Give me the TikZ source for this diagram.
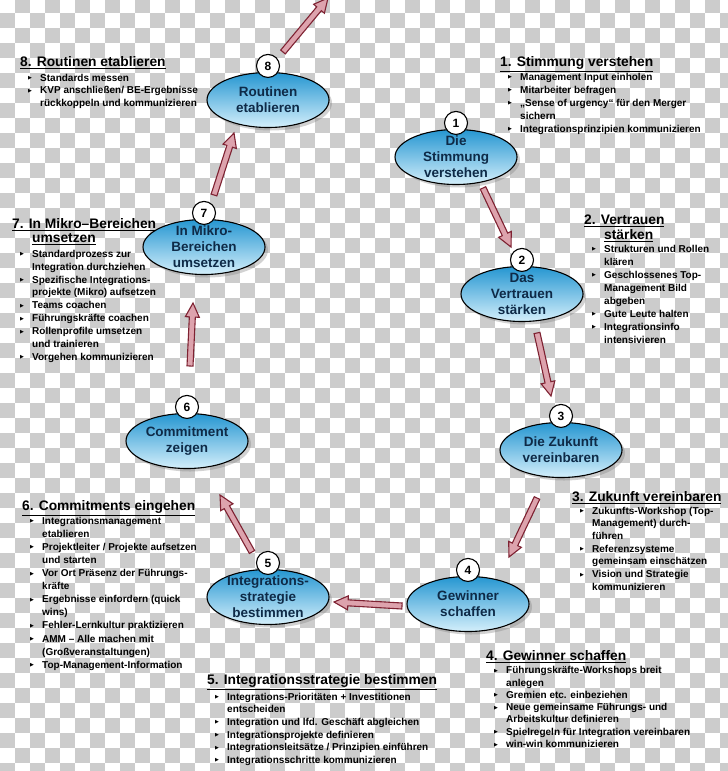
\documentclass[tikz,border=0pt]{standalone}
\usepackage{fontspec}
\setmainfont{Liberation Sans}
\newfontfamily\symfont{DejaVu Sans}
\usetikzlibrary{shapes.geometric,shadows,calc,positioning}

\definecolor{phasetop}{HTML}{2596D1}
\definecolor{phasebot}{HTML}{D4EFFB}
\definecolor{phasetext}{HTML}{0E2A47}
\definecolor{arrowfill}{HTML}{DDA3AD}
\definecolor{arrowline}{HTML}{7E2232}
\definecolor{checker}{HTML}{CCCCCC}

% bullet and continuation lines of the lists
\newcommand{\bul}{\strut\hspace*{8pt}\makebox[12pt][l]{\raisebox{1.5pt}{\symfont\fontsize{5}{5}\selectfont ▶}}}
\newcommand{\cont}{\strut\hspace*{20pt}}

% block arrow from tail #1 to tip #2
\newcommand{\flowarrow}[2]{%
  \coordinate (hb) at ($(#2)!14pt!(#1)$);
  \filldraw[flow] ($(#1)!3pt!90:(#2)$) -- ($(hb)!3pt!-90:(#1)$) -- ($(hb)!7pt!-90:(#1)$) -- (#2)
    -- ($(hb)!7pt!90:(#1)$) -- ($(hb)!3pt!90:(#1)$) -- ($(#1)!3pt!-90:(#2)$) -- cycle;}

\tikzset{
  phase/.style={ellipse, draw=black, line width=1.1pt, top color=phasetop, bottom color=phasebot,
    minimum width=122pt, minimum height=55pt, inner xsep=0pt, inner ysep=-4pt, align=center,
    text=phasetext, font=\bfseries\fontsize{13.5}{16}\selectfont,
    drop shadow={shadow xshift=3pt, shadow yshift=-3pt, opacity=0.35}},
  stepnum/.style={circle, draw=black, line width=1.1pt, fill=white, minimum size=23pt, inner sep=0pt,
    font=\bfseries\fontsize{12}{12}\selectfont},
  headtxt/.style={anchor=north west, inner sep=0pt, align=left, font=\bfseries\fontsize{13.8}{14}\selectfont},
  listtxt/.style={anchor=north west, inner sep=0pt, align=left, font=\bfseries\fontsize{10}{#1}\selectfont},
  flow/.style={fill=arrowfill, draw=arrowline, line width=1.1pt, line join=miter}
}

\begin{document}
\begin{tikzpicture}[x=1pt,y=-1pt]
\useasboundingbox (0,0) rectangle (728,771);

% background
\fill[white] (0,0) rectangle (728,771);
\foreach \i in {0,...,48}{
  \foreach \j in {0,...,51}{
    \pgfmathtruncatemacro\k{mod(\i+\j,2)}
    \ifnum\k=1 \fill[checker] (\i*15,\j*15-2) rectangle ++(15,15);\fi
  }
}

% arrow ends
\coordinate (t8) at (283,52);  \coordinate (h8) at (328,-2);
\coordinate (t1) at (483,188); \coordinate (h1) at (511,247);
\coordinate (t2) at (537,333); \coordinate (h2) at (551,396);
\coordinate (t3) at (537,498); \coordinate (h3) at (509,557);
\coordinate (t4) at (402,606); \coordinate (h4) at (334,602);
\coordinate (t5) at (252,552); \coordinate (h5) at (220,495);
\coordinate (t6) at (190,366); \coordinate (h6) at (193,303);
\coordinate (t7) at (214,195); \coordinate (h7) at (234,133);

\flowarrow{t8}{h8}
\flowarrow{t1}{h1}
\flowarrow{t2}{h2}
\flowarrow{t3}{h3}
\flowarrow{t4}{h4}
\flowarrow{t5}{h5}
\flowarrow{t6}{h6}
\flowarrow{t7}{h7}

% phases
\node[phase] (e1) at (456,157) {Die\\Stimmung\\verstehen};
\node[phase] (e2) at (522,294) {Das\\Vertrauen\\stärken};
\node[phase] (e3) at (561,450) {Die Zukunft\\vereinbaren};
\node[phase] (e4) at (468,604) {Gewinner\\schaffen};
\node[phase] (e5) at (268,597) {Integrations-\\strategie\\bestimmen};
\node[phase] (e6) at (187,441) {Commitment\\zeigen};
\node[phase] (e7) at (204,247) {In Mikro-\\Bereichen\\umsetzen};
\node[phase] (e8) at (268,100) {Routinen\\etablieren};

\foreach \n in {1,...,8}
  \node[stepnum] (n\n) at ([yshift=6pt]e\n.north) {\n};

% texts
\node[headtxt] (h8txt) at (20,56.2) {\strut\underline{8. Routinen etablieren}};
\node[listtxt=12.5] (l8txt) at (20,72.2) {\bul Standards messen\\
  \bul KVP anschließen/ BE-Ergebnisse\\
  \cont rückkoppeln und kommunizieren};

\node[headtxt] (h1txt) at (500,56.2) {\strut\underline{1. Stimmung verstehen}};
\node[listtxt=13] (l1txt) at (500,70.9) {\bul Management Input einholen\\
  \bul Mitarbeiter befragen\\
  \bul „Sense of urgency“ für den Merger\\
  \cont sichern\\
  \bul Integrationsprinzipien kommunizieren};

\node[headtxt] (h2txt) at (584,214.2) {\strut\underline{2. Vertrauen}\\\hspace*{20pt}\underline{stärken}};
\node[listtxt=13] (l2txt) at (584,242.9) {\bul Strukturen und Rollen\\
  \cont klären\\
  \bul Geschlossenes Top-\\
  \cont Management Bild\\
  \cont abgeben\\
  \bul Gute Leute halten\\
  \bul Integrationsinfo\\
  \cont intensivieren};

\node[headtxt] (h3txt) at (572,491.2) {\strut\underline{3. Zukunft vereinbaren}};
\node[listtxt=12.7] (l3txt) at (572,505.1) {\bul Zukunfts-Workshop (Top-\\
  \cont Management) durch-\\
  \cont führen\\
  \bul Referenzsysteme\\
  \cont gemeinsam einschätzen\\
  \bul Vision und Strategie\\
  \cont kommunizieren};

\node[headtxt] (h4txt) at (486,650.2) {\strut\underline{4. Gewinner schaffen}};
\node[listtxt=12.3] (l4txt) at (486,664.9) {\bul Führungskräfte-Workshops breit\\
  \cont anlegen\\
  \bul Gremien etc. einbeziehen\\
  \bul Neue gemeinsame Führungs- und\\
  \cont Arbeitskultur definieren\\
  \bul Spielregeln für Integration vereinbaren\\
  \bul win-win kommunizieren};

\node[headtxt] (h5txt) at (207,674.2) {\strut\underline{5. Integrationsstrategie bestimmen}};
\node[listtxt=12.6] (l5txt) at (207,691.2) {\bul Integrations-Prioritäten + Investitionen\\
  \cont entscheiden\\
  \bul Integration und lfd. Geschäft abgleichen\\
  \bul Integrationsprojekte definieren\\
  \bul Integrationsleitsätze / Prinzipien einführen\\
  \bul Integrationsschritte kommunizieren};

\node[headtxt] (h6txt) at (22,500.2) {\strut\underline{6. Commitments eingehen}};
\node[listtxt=13.1] (l6txt) at (22,514.8) {\bul Integrationsmanagement\\
  \cont etablieren\\
  \bul Projektleiter / Projekte aufsetzen\\
  \cont und starten\\
  \bul Vor Ort Präsenz der Führungs-\\
  \cont kräfte\\
  \bul Ergebnisse einfordern (quick\\
  \cont wins)\\
  \bul Fehler-Lernkultur praktizieren\\
  \bul AMM – Alle machen mit\\
  \cont (Großveranstaltungen)\\
  \bul Top-Management-Information};

\node[headtxt] (h7txt) at (12,218.2) {\strut\underline{7. In Mikro–Bereichen}\\\hspace*{20pt}\underline{umsetzen}};
\node[listtxt=12.9] (l7txt) at (12,248) {\bul Standardprozess zur\\
  \cont Integration durchziehen\\
  \bul Spezifische Integrations-\\
  \cont projekte (Mikro) aufsetzen\\
  \bul Teams coachen\\
  \bul Führungskräfte coachen\\
  \bul Rollenprofile umsetzen\\
  \cont und trainieren\\
  \bul Vorgehen kommunizieren};
\end{tikzpicture}
\end{document}
